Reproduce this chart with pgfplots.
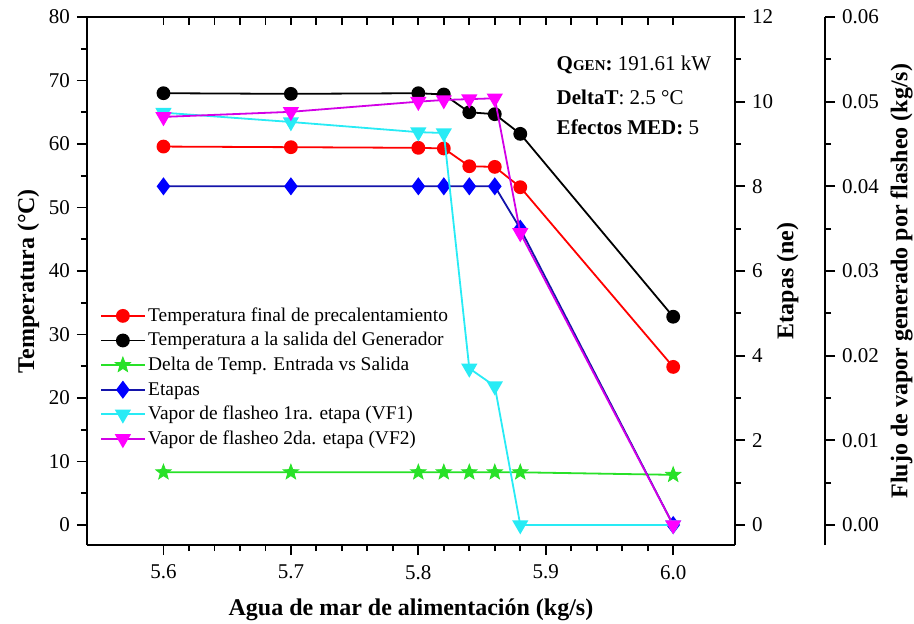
\documentclass[border=0pt]{standalone}
\usepackage{pgfplots}
\pgfplotsset{compat=1.18}
\usepackage{fontspec}
\setmainfont{Liberation Serif}

\definecolor{cred}{RGB}{255,0,0}
\definecolor{cgreen}{RGB}{40,225,40}
\definecolor{cblue}{RGB}{0,0,255}
\definecolor{cnavy}{RGB}{20,20,170}
\definecolor{ccyan}{RGB}{40,235,245}
\definecolor{cmag}{RGB}{255,0,255}
\definecolor{cmagl}{RGB}{210,0,230}

\pgfdeclareplotmark{fstar}{%
  \pgfpathmoveto{\pgfpointpolar{90}{\pgfplotmarksize}}%
  \pgfpathlineto{\pgfpointpolar{126}{0.42\pgfplotmarksize}}%
  \pgfpathlineto{\pgfpointpolar{162}{\pgfplotmarksize}}%
  \pgfpathlineto{\pgfpointpolar{198}{0.42\pgfplotmarksize}}%
  \pgfpathlineto{\pgfpointpolar{234}{\pgfplotmarksize}}%
  \pgfpathlineto{\pgfpointpolar{270}{0.42\pgfplotmarksize}}%
  \pgfpathlineto{\pgfpointpolar{306}{\pgfplotmarksize}}%
  \pgfpathlineto{\pgfpointpolar{342}{0.42\pgfplotmarksize}}%
  \pgfpathlineto{\pgfpointpolar{18}{\pgfplotmarksize}}%
  \pgfpathlineto{\pgfpointpolar{54}{0.42\pgfplotmarksize}}%
  \pgfpathclose
  \pgfusepathqfillstroke}

\pgfplotsset{
  base/.style={
    width=324pt, height=264pt, scale only axis,
    xmin=5.54, xmax=6.0485,
    /pgf/number format/assume math mode=true,
    tick label style={font=\fontsize{10.5}{12}\selectfont},
    label style={font=\fontsize{12}{14}\selectfont\bfseries},
    axis line style={line width=1pt},
    tick style={line width=0.9pt, black},
    major tick length=5pt, minor tick length=3pt,
    clip=false,
  },
}

\begin{document}
\begin{tikzpicture}
% Temperature axis (left, bottom)
\begin{axis}[base,
  axis x line*=bottom, axis y line*=left, tick align=outside,
  ymin=-3.15, ymax=80,
  xtick={5.6,5.7,5.8,5.9,6.0}, minor x tick num=4,
  xticklabel style={yshift=-1.5pt, /pgf/number format/.cd, fixed, fixed zerofill, precision=1},
  ytick={0,10,...,80}, minor y tick num=1,
  xlabel={Agua de mar de alimentación (kg/s)},
  xlabel shift=3pt,
  ylabel={Temperatura (°C)},
  ylabel shift=-2pt,
]
\addplot[color=cred, line width=0.9pt, mark=*, mark size=3pt, mark options={fill=cred, draw=cred}] coordinates {
 (5.60,59.6) (5.70,59.5) (5.80,59.4) (5.82,59.3) (5.84,56.5) (5.86,56.4) (5.88,53.2) (6.00,24.9)};
\addplot[color=black, line width=0.9pt, mark=*, mark size=3pt] coordinates {
 (5.60,68.0) (5.70,67.9) (5.80,68.0) (5.82,67.8) (5.84,65.0) (5.86,64.7) (5.88,61.6) (6.00,32.8)};
\addplot[color=cgreen, line width=0.9pt, mark=fstar, mark size=4pt, mark options={fill=cgreen, draw=cgreen, line width=0.4pt}] coordinates {
 (5.60,8.3) (5.70,8.3) (5.80,8.3) (5.82,8.3) (5.84,8.3) (5.86,8.3) (5.88,8.3) (6.00,7.9)};
\node[anchor=west, font=\fontsize{10.5}{12}\selectfont] at (rel axis cs:0.714,0.909) {\textbf{Q{\fontsize{7.5}{9}\selectfont GEN}:} 191.61 kW};
\node[anchor=west, font=\fontsize{10.5}{12}\selectfont] at (rel axis cs:0.714,0.8485) {\textbf{DeltaT}: 2.5 °C};
\node[anchor=west, font=\fontsize{10.5}{12}\selectfont] at (rel axis cs:0.714,0.7917) {\textbf{Efectos MED: }5};
\end{axis}
% Etapas axis (right)
\begin{axis}[base,
  hide x axis, axis y line*=right, tick align=outside,
  ymin=-0.4725, ymax=12,
  ytick={0,2,...,12}, minor y tick num=1,
  ylabel={Etapas (ne)},
  ylabel shift=-5pt,
]
\addplot[color=cnavy, line width=0.9pt, mark=diamond*, mark size=3.8pt, mark options={fill=cblue, draw=cblue}] coordinates {
 (5.60,8) (5.70,8) (5.80,8) (5.82,8) (5.84,8) (5.86,8) (5.88,7) (6.00,0)};
\end{axis}
% Top x axis
\begin{axis}[base,
  axis x line*=top, hide y axis, tick align=inside,
  ymin=0, ymax=1,
  xtick={5.6,5.7,5.8,5.9,6.0}, minor x tick num=4, xticklabels={},
  major tick length=4pt, minor tick length=4pt,
]
\end{axis}
% Flow plots
\begin{axis}[base,
  hide x axis, hide y axis,
  ymin=-0.002363, ymax=0.06,
  legend cell align=left,
  legend image code/.code={\draw[mark repeat=2,mark phase=2,#1] plot coordinates {(0cm,0cm) (0.38cm,0cm) (0.76cm,0cm)};},
  legend style={draw=none, fill=none, at={(rel axis cs:0.02,0.458)}, anchor=north west,
    font=\fontsize{9.7}{11}\selectfont, inner sep=0pt, row sep=0pt,
    nodes={inner sep=1.4pt, text height=7.5pt, text depth=2pt}},
]
\addlegendimage{color=cred, line width=0.9pt, mark=*, mark size=3pt, mark options={fill=cred, draw=cred}}
\addlegendentry{Temperatura final de precalentamiento}
\addlegendimage{color=black, line width=0.9pt, mark=*, mark size=3pt}
\addlegendentry{Temperatura a la salida del Generador}
\addlegendimage{color=cgreen, line width=0.9pt, mark=fstar, mark size=4pt, mark options={fill=cgreen, draw=cgreen, line width=0.4pt}}
\addlegendentry{Delta de Temp. Entrada vs Salida}
\addlegendimage{color=cnavy, line width=0.9pt, mark=diamond*, mark size=3.8pt, mark options={fill=cblue, draw=cblue}}
\addlegendentry{Etapas}
\addplot[color=ccyan, line width=0.9pt, mark=triangle*, mark size=3.8pt, mark options={fill=ccyan, draw=ccyan, rotate=180}] coordinates {
 (5.60,0.0487) (5.70,0.0476) (5.80,0.0464) (5.82,0.0463) (5.84,0.0185) (5.86,0.0164) (5.88,0.0) (6.00,0.0)};
\addlegendentry{Vapor de flasheo 1ra. etapa (VF1)}
\addplot[color=cmagl, line width=0.9pt, mark=triangle*, mark size=3.8pt, mark options={fill=cmag, draw=cmag, rotate=180}] coordinates {
 (5.60,0.0482) (5.70,0.0488) (5.80,0.0500) (5.82,0.0502) (5.84,0.0503) (5.86,0.0504) (5.88,0.0345) (6.00,0.0)};
\addlegendentry{Vapor de flasheo 2da. etapa (VF2)}
\end{axis}
% Flow axis (offset right)
\begin{axis}[base, at={(45pt,0pt)},
  hide x axis, axis y line*=right, tick align=outside,
  ymin=-0.002363, ymax=0.06,
  ytick={0,0.01,...,0.06}, minor y tick num=1,
  scaled y ticks=false,
  yticklabel style={/pgf/number format/.cd, fixed, fixed zerofill, precision=2},
  ylabel={Flujo de vapor generado por flasheo (kg/s)},
  ylabel shift=-1pt,
]
\end{axis}
\pgfresetboundingbox
\path (-43.5pt,-39pt) rectangle (413.5pt,272.5pt);
\end{tikzpicture}
\end{document}
